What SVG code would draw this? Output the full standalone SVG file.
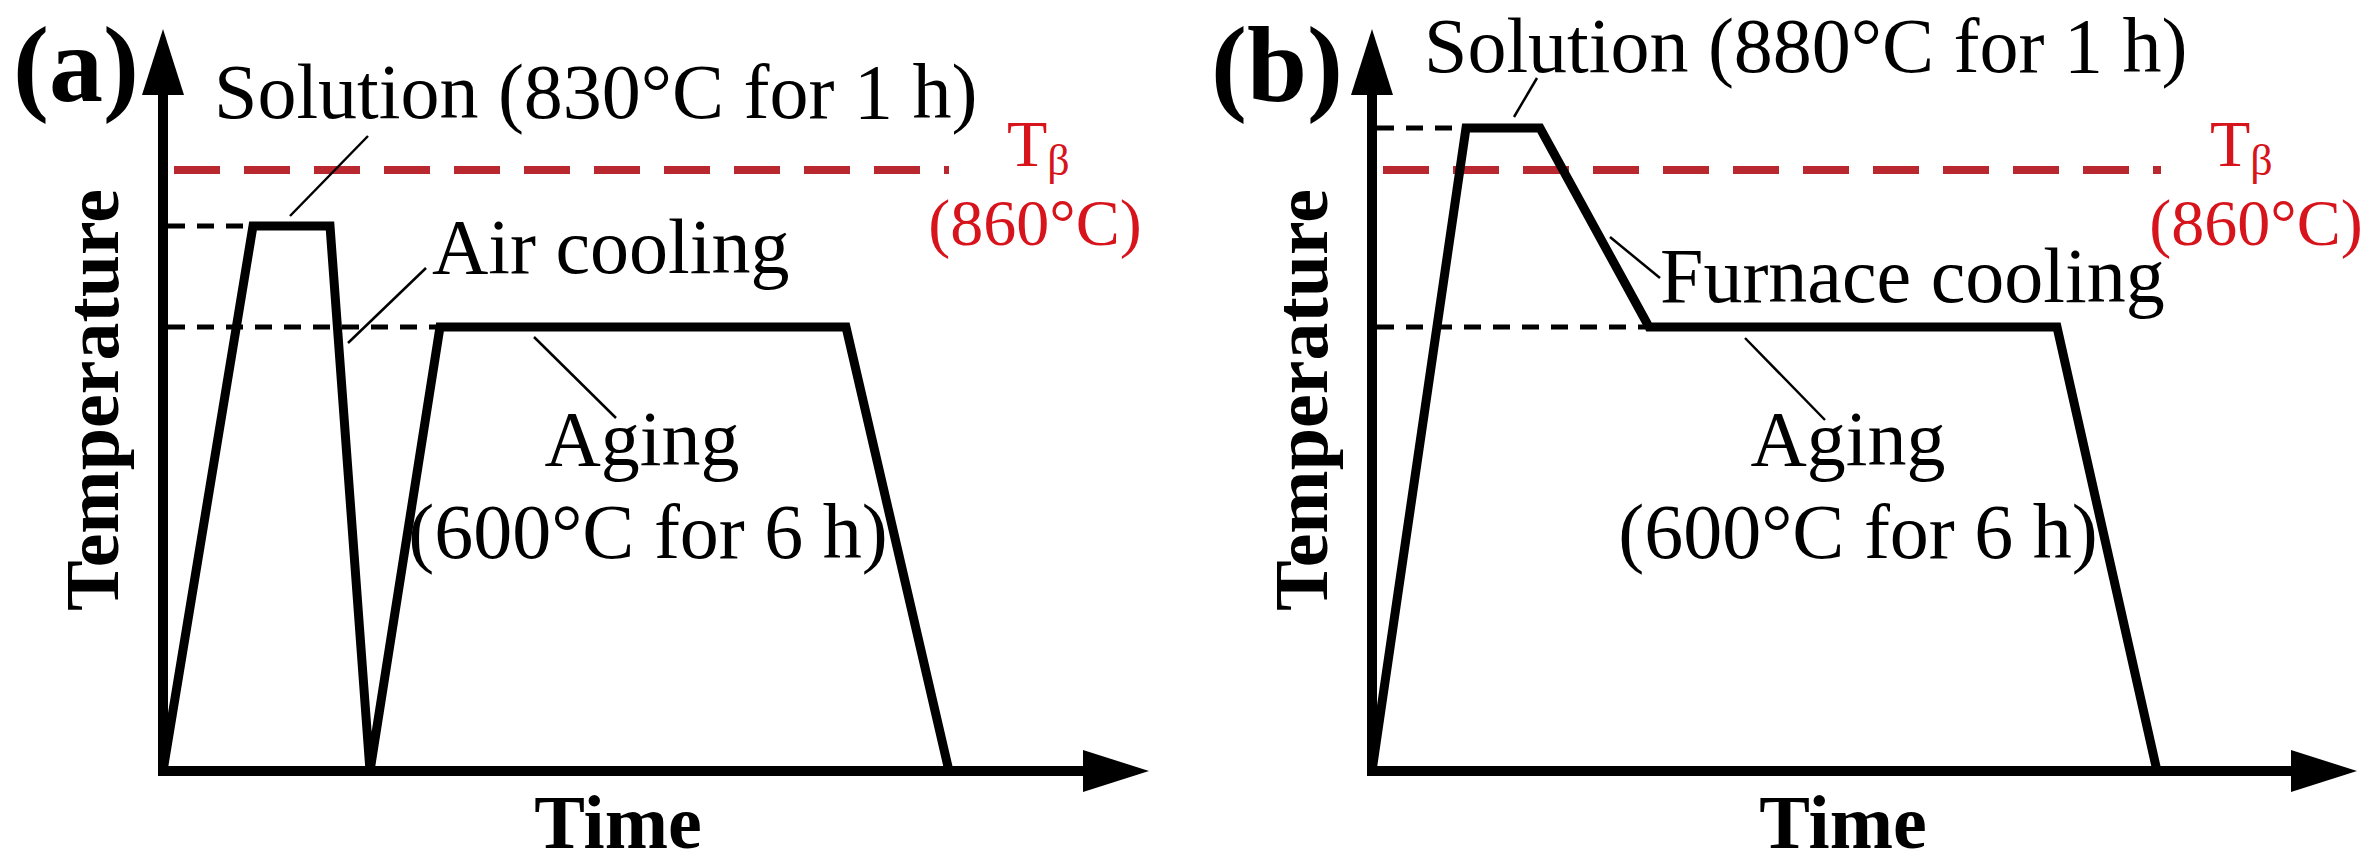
<svg xmlns="http://www.w3.org/2000/svg" width="2373" height="868" viewBox="0 0 2373 868">
<defs>
<style>
text{font-family:"Liberation Serif","Times New Roman",serif;fill:#000}
.lbl{font-size:78px}
.panel{font-size:108px;font-weight:bold}
.axlbl{font-size:76px;font-weight:bold}
.red{fill:#d7141c;font-size:66px}
.axis{stroke:#000;stroke-width:10;fill:none}
.prof{stroke:#000;stroke-width:9;fill:none;stroke-linejoin:miter}
.guide{stroke:#000;stroke-width:5;stroke-dasharray:17 12;fill:none}
.tb{stroke:#b8282e;stroke-width:8;stroke-dasharray:46 24;fill:none}
.lead{stroke:#000;stroke-width:2.5;fill:none}
</style>
<marker id="ah" viewBox="0 0 66 42" markerWidth="66" markerHeight="42" markerUnits="userSpaceOnUse" refX="0" refY="21" orient="auto">
<path d="M0,0 L66,21 L0,42 z" fill="#000"/>
</marker>
</defs>
<rect width="2373" height="868" fill="#fff"/>

<g id="panel-a">
  <text class="panel" x="13" y="101">(a)</text>
  <g id="a-axes">
    <line class="axis" x1="163" y1="776" x2="163" y2="95" marker-end="url(#ah)"/>
    <line class="axis" x1="158" y1="771" x2="1083" y2="771" marker-end="url(#ah)"/>
  </g>
  <text class="axlbl" transform="translate(118,400) rotate(-90)" text-anchor="middle">Temperature</text>
  <text class="axlbl" x="618" y="848" text-anchor="middle">Time</text>
  <line class="tb" x1="174" y1="170" x2="949" y2="170"/>
  <g id="a-guides">
    <line class="guide" x1="168" y1="226" x2="253" y2="226"/>
    <line class="guide" x1="168" y1="327" x2="440" y2="327"/>
  </g>
  <polyline id="a-profile" class="prof" points="163,771 253,226 330,226 370,771 440,327 846,327 949,771"/>
  <g id="a-leaders">
    <line class="lead" x1="290" y1="216" x2="368" y2="136"/>
    <line class="lead" x1="348" y1="343" x2="426" y2="268"/>
    <line class="lead" x1="534" y1="337" x2="616" y2="418"/>
  </g>
  <text class="lbl" x="214" y="118">Solution (830°C for 1 h)</text>
  <text class="lbl" x="432" y="273">Air cooling</text>
  <text class="lbl" x="642" y="465" text-anchor="middle">Aging</text>
  <text class="lbl" x="648" y="558" text-anchor="middle">(600°C for 6 h)</text>
  <text class="red" x="1007" y="166">T<tspan font-size="44" dy="9">β</tspan></text>
  <text class="red" x="1035" y="245" text-anchor="middle">(860°C)</text>
</g>

<g id="panel-b">
  <text class="panel" x="1211" y="101">(b)</text>
  <g id="b-axes">
    <line class="axis" x1="1372" y1="776" x2="1372" y2="95" marker-end="url(#ah)"/>
    <line class="axis" x1="1367" y1="771" x2="2291" y2="771" marker-end="url(#ah)"/>
  </g>
  <text class="axlbl" transform="translate(1327,400) rotate(-90)" text-anchor="middle">Temperature</text>
  <text class="axlbl" x="1843" y="848" text-anchor="middle">Time</text>
  <line class="tb" x1="1383" y1="170" x2="2161" y2="170"/>
  <g id="b-guides">
    <line class="guide" x1="1377" y1="128" x2="1466" y2="128"/>
    <line class="guide" x1="1377" y1="327" x2="1645" y2="327"/>
  </g>
  <polyline id="b-profile" class="prof" points="1372,771 1466,128 1540,128 1649,327 2057,327 2157,771"/>
  <g id="b-leaders">
    <line class="lead" x1="1514" y1="117" x2="1537" y2="78"/>
    <line class="lead" x1="1610" y1="237" x2="1660" y2="278"/>
    <line class="lead" x1="1745" y1="338" x2="1825" y2="420"/>
  </g>
  <text class="lbl" x="1424" y="72">Solution (880°C for 1 h)</text>
  <text class="lbl" x="1660" y="302">Furnace cooling</text>
  <text class="lbl" x="1848" y="465" text-anchor="middle">Aging</text>
  <text class="lbl" x="1858" y="558" text-anchor="middle">(600°C for 6 h)</text>
  <text class="red" x="2210" y="166">T<tspan font-size="44" dy="9">β</tspan></text>
  <text class="red" x="2256" y="245" text-anchor="middle">(860°C)</text>
</g>
</svg>
